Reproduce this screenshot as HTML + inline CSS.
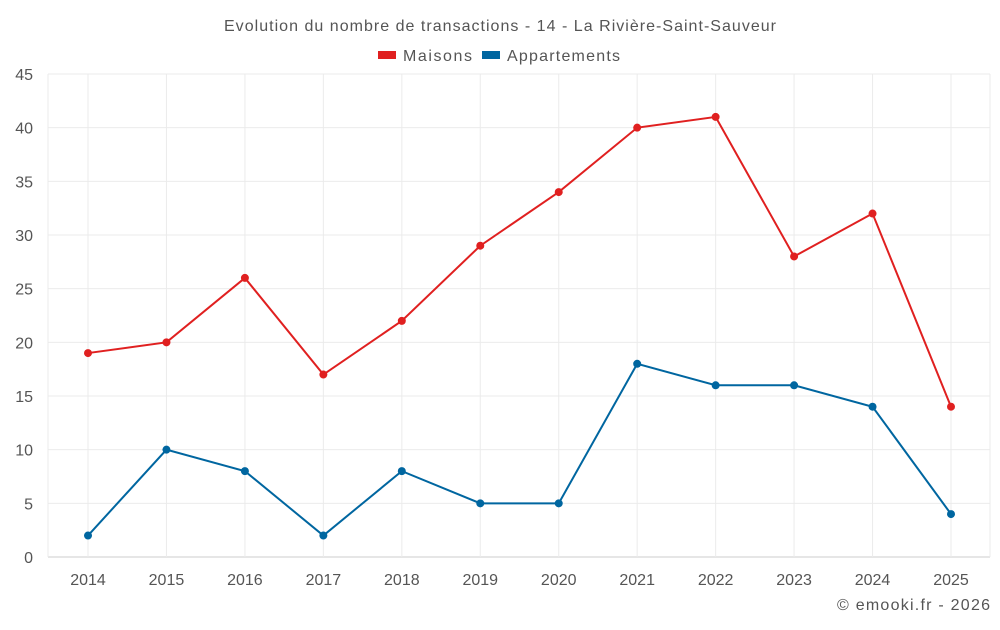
<!DOCTYPE html>
<html><head><meta charset="utf-8"><style>
body{margin:0;background:#fff;font-family:"Liberation Sans",sans-serif;}
svg text{font-family:"Liberation Sans",sans-serif;}
</style></head><body>
<svg id="chart" width="1000" height="625">
<text x="224" y="31" textLength="552" lengthAdjust="spacing" font-size="16" fill="#555">Evolution du nombre de transactions - 14 - La Rivière-Saint-Sauveur</text>
<g>
<g><rect x="378" y="51" width="18" height="8" fill="#e02020"/><text x="403" y="61" textLength="69" lengthAdjust="spacing" font-size="16" fill="#555">Maisons</text></g>
<g><rect x="482" y="51" width="18" height="8" fill="#0066a0"/><text x="507" y="61" textLength="113" lengthAdjust="spacing" font-size="16" fill="#555">Appartements</text></g>
</g>
<g id="grid"></g><g id="axes"></g><g id="series"></g>
<text x="837" y="610" textLength="153" lengthAdjust="spacing" font-size="16" fill="#555">© emooki.fr - 2026</text>
</svg>
<script>
const years=["2014","2015","2016","2017","2018","2019","2020","2021","2022","2023","2024","2025"];
const maisons=[19,20,26,17,22,29,34,40,41,28,32,14];
const appartements=[2,10,8,2,8,5,5,18,16,16,14,4];
const yTicks=[0,5,10,15,20,25,30,35,40,45];
const NS="http://www.w3.org/2000/svg";
const L=48,R=990,T=74,B=557;
const x=i=>88+i*(951-88)/(years.length-1);
const y=v=>B-(v/45)*(B-T);
function mk(tag,attrs,parent){const e=document.createElementNS(NS,tag);for(const k in attrs)e.setAttribute(k,attrs[k]);parent.appendChild(e);return e;}
const g=document.getElementById('grid'),ax=document.getElementById('axes'),s=document.getElementById('series');
yTicks.forEach(v=>{
 const l=mk('line',{x1:L,x2:R,y1:y(v),y2:y(v),stroke:v===0?'#ccc':'#ebebeb'},g);
 
 
 const t=mk('text',{x:33,y:y(v)+6,'text-anchor':'end','font-size':16,fill:'#555'},ax);t.textContent=v;
 
 
});
years.forEach((yr,i)=>{
 const l=mk('line',{x1:x(i),x2:x(i),y1:T,y2:B,stroke:'#ebebeb'},g);
 
 
 const t=mk('text',{x:x(i),y:585,'text-anchor':'middle','font-size':16,fill:'#555'},ax);t.textContent=yr;
 
 
});
mk('line',{x1:L,x2:L,y1:T,y2:B,stroke:'#ebebeb'},g);
mk('line',{x1:R,x2:R,y1:T,y2:B,stroke:'#ebebeb'},g);
function series(data,color,name){
 const p=mk('polyline',{points:data.map((v,i)=>x(i)+','+y(v)).join(' '),fill:'none',stroke:color,'stroke-width':2},s);
 
 
 data.forEach((v,i)=>{
  const c=mk('circle',{cx:x(i),cy:y(v),r:4,fill:color},s);
  
  
 });
}
series(maisons,'#e02020','maisons');
series(appartements,'#0066a0','appartements');
</script>
</body></html>
